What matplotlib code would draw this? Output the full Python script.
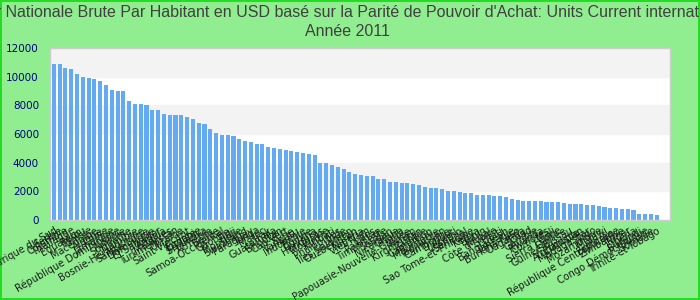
import numpy as np
import matplotlib
matplotlib.use('Agg')
import matplotlib.pyplot as plt


# revenu par habitant (PPA), année 2011

countries = [
    'Afrique du Sud', 'Serbie', 'Colombie', 'Thaïlande', 'Équateur', 'Pérou',
    'Tunisie', 'Macédoine', 'Algérie', 'Chine', 'Jamaïque',
    'République Dominicaine', 'Albanie', 'Suriname', 'Namibie',
    'Bosnie-Herzégovine', 'Sainte-Lucie', 'Dominique', 'El Salvador',
    'Angola', 'Maldives', 'Turkménistan', 'Ukraine', 'Saint-Vincent',
    'Égypte', 'Jordanie', 'Sri Lanka', 'Arménie', 'Belize',
    'Samoa-Occidental', 'Géorgie', 'Fidji', 'Mongolie', 'Swaziland',
    'Paraguay', 'Tonga', 'Maroc', 'Irak', 'Guatemala', 'Bhoutan',
    'Cap-Vert', 'Syrie', 'Vanuatu', 'Indonésie', 'Bolivie', 'Guyana',
    'Honduras', 'Moldavie', 'Kiribati', 'Philippines', 'Inde',
    'Îles Salomon', 'Ouzbékistan', 'Nigeria', 'Viet Nam', 'Laos',
    'Pakistan', 'Timor-Leste', 'Soudan', 'Nicaragua', 'Ghana',
    'Papouasie-Nouvelle-Guinée', 'Yémen', 'Kirghizistan', 'Zambie',
    'Cameroun', 'Mauritanie', 'Tadjikistan', 'Cambodge', 'Djibouti',
    'Lesotho', 'Sénégal', 'Sao Tome-et-Principe', 'Kenya', 'Bénin',
    'Népal', "Côte d'Ivoire", 'Haïti', 'Bangladesh', 'Tanzanie',
    'Burkina Faso', 'Ouganda', 'Tchad', 'Gambie', 'Rwanda', 'Comores',
    'Mali', 'Sierra Leone', 'Guinée', 'Guinée-Bissau', 'Éthiopie',
    'Afghanistan', 'Madagascar', 'Togo', 'Mozambique', 'Malawi',
    'Érythrée', 'République Centrafricaine', 'Zimbabwe', 'Niger',
    'Libéria', 'Burundi', 'Congo Démocratique', 'Somalie',
    'Trinité-et-Tobago',
]

values = [
    10900, 10900, 10600, 10540, 10190, 9980, 9910, 9840, 9700, 9420,
    9070, 9000, 9000, 8300, 8090, 8090, 8020, 7680, 7680,
    7400, 7330, 7330, 7330, 7190, 7050, 6770, 6700, 6350, 6070, 5930, 5930,
    5860, 5650, 5510, 5440, 5300, 5300, 5090, 5020, 4950, 4880, 4810,
    4740, 4670, 4600, 4530, 3980, 3980, 3840, 3700, 3560, 3350, 3210,
    3140, 3070, 3070, 2860, 2860, 2650, 2650, 2580, 2580, 2510, 2440,
    2300, 2230, 2230, 2160, 2020, 2020, 1950, 1880, 1880,
    1740, 1740, 1740, 1670, 1670, 1600, 1460, 1390, 1330, 1330, 1330,
    1330, 1260, 1260, 1260, 1190, 1120, 1120, 1120, 1050, 1050, 980,
    910, 840, 840, 770, 770, 700, 420, 420, 420, 350,
]

title_line1 = ("Valeur Nationale Brute Par Habitant en USD basé sur la Parité de "
               "Pouvoir d'Achat: Units Current international $")
title_line2 = 'Année 2011'

yticks = [0, 2000, 4000, 6000, 8000, 10000, 12000]


fig = plt.figure(figsize=(7, 3), dpi=100)
fig.patch.set_facecolor('#90ee90')
fig.patch.set_edgecolor('#22dd22')
fig.patch.set_linewidth(1.5)

ax = fig.add_axes([50 / 700, 80 / 300, 620 / 700, 172 / 300])
ax.set_facecolor('white')

# bandes grises alternées
for lo in (2000, 6000, 10000):
    ax.axhspan(lo, lo + 2000, color='#f3f3f3', zorder=0)

x = np.arange(len(values))
ax.bar(x, values, width=0.7, color='#63aaf2', zorder=2)

ax.set_xlim(-0.65, 106.3)
ax.set_ylim(0, 12000)
ax.set_yticks(yticks)
ax.set_yticklabels([str(v) for v in yticks], color='#000080', fontsize=7.5)
ax.tick_params(axis='y', length=0, pad=8)

ax.set_xticks(x)
ax.set_xticklabels(countries, rotation=30, ha='right', rotation_mode='anchor',
                   fontsize=7, color='#1a1a1a')
ax.tick_params(axis='x', length=0, pad=4)

for s in ax.spines.values():
    s.set_color('#cccccc')
    s.set_linewidth(1)

title_font = ['Liberation Sans Narrow', 'Liberation Sans', 'DejaVu Sans']
fig.text(0.5 + 1 / 700, 1 - 12 / 300, title_line1, ha='center', va='center',
         fontsize=11.55, color='#404040', family=title_font)
fig.text(0.497, 1 - 32 / 300, title_line2, ha='center', va='center',
         fontsize=11.55, color='#404040', family=title_font)

fig.savefig('out.png', dpi=100, facecolor=fig.get_facecolor(),
            edgecolor=fig.get_edgecolor())
